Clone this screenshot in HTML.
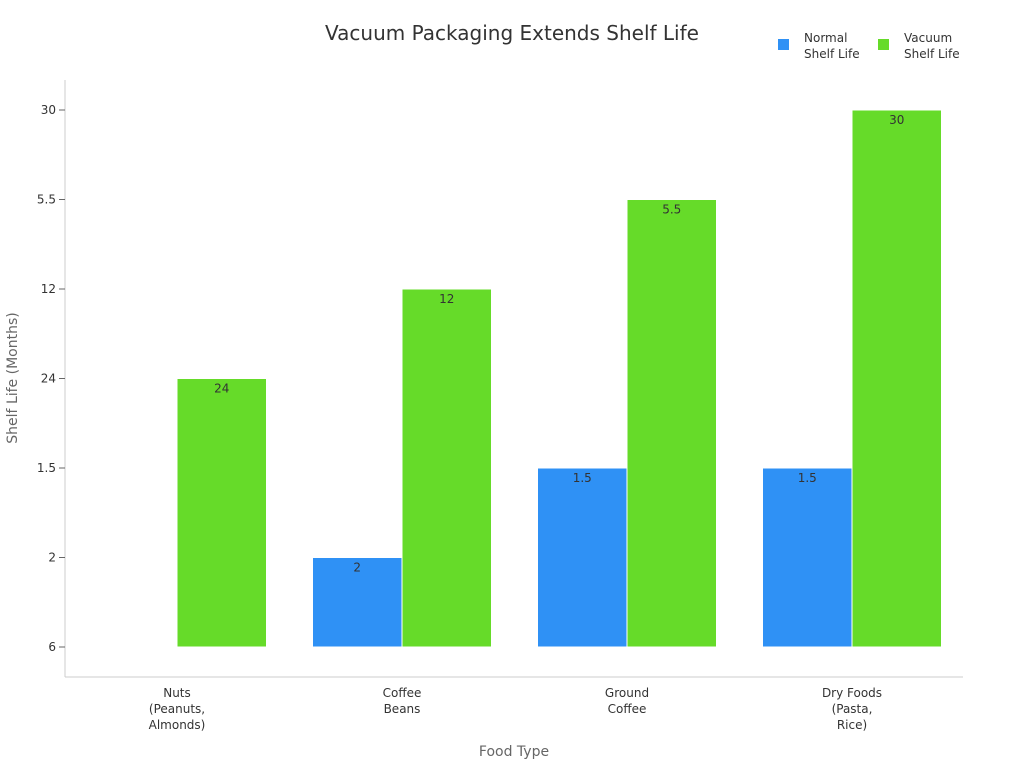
<!DOCTYPE html>
<html><head><meta charset="utf-8"><style>
body{margin:0;background:#fff;font-family:"DejaVu Sans","Liberation Sans",sans-serif;}
svg{display:block}
</style></head><body>
<svg id="chart" width="1024" height="768">
<text x="512" y="40" text-anchor="middle" font-size="20" fill="#333">Vacuum Packaging Extends Shelf Life</text>
<g>
<rect x="778" y="39" width="11" height="11" fill="#2f91f5"/>
<text x="804" y="42" font-size="12" fill="#333"><tspan x="804">Normal</tspan><tspan x="804" dy="16">Shelf Life</tspan></text>
<rect x="878" y="39" width="11" height="11" fill="#66db29"/>
<text x="904" y="42" font-size="12" fill="#333"><tspan x="904">Vacuum</tspan><tspan x="904" dy="16">Shelf Life</tspan></text>
</g>
<line x1="65" y1="80" x2="65" y2="677" stroke="#ccc"/>
<line x1="65" y1="677" x2="963" y2="677" stroke="#ccc"/>
<text transform="translate(17,378) rotate(-90)" text-anchor="middle" font-size="14" fill="#666">Shelf Life (Months)</text>
<text x="514" y="756" text-anchor="middle" font-size="14" fill="#666">Food Type</text>
<g id="g"></g>
</svg>
<script>
const yCategories=["6","2","1.5","24","12","5.5","30"];
const categories=[["Nuts","(Peanuts,","Almonds)"],["Coffee","Beans"],["Ground","Coffee"],["Dry Foods","(Pasta,","Rice)"]];
const normalValues=["6","2","1.5","1.5"];
const vacuumValues=["24","12","5.5","30"];
const NS="http://www.w3.org/2000/svg";
const g=document.getElementById('g');
function y(v){return 647-yCategories.indexOf(v)*89.5;}
function xc(i){return 177+i*225;}
function mk(t,a){const e=document.createElementNS(NS,t);for(const k in a)e.setAttribute(k,a[k]);g.appendChild(e);return e;}
yCategories.forEach(v=>{
 const tk=mk('line',{x1:59,x2:65,y1:y(v),y2:y(v),stroke:'#666'});
 
 
 const t=mk('text',{x:56,y:y(v)+4,'text-anchor':'end','font-size':12,fill:'#333'});
 
 
 t.textContent=v;
});
categories.forEach((c,i)=>{
 const t=mk('text',{x:xc(i),y:697,'text-anchor':'middle','font-size':12,fill:'#333'});
 
 
 c.forEach((l,j)=>{const s=document.createElementNS(NS,'tspan');s.setAttribute('x',xc(i));s.setAttribute('dy',j?16:0);s.textContent=l;t.appendChild(s);});
 [[normalValues[i],-89.5,'#2f91f5','bar-normal'],[vacuumValues[i],0,'#66db29','bar-vacuum']].forEach(([v,off,col,nm])=>{
  const top=y(v),h=647-top;
  if(h<=0)return;
  const r=mk('rect',{x:xc(i)+off,y:top,width:89.5,height:h,fill:col,stroke:'#fff','stroke-width':1});
  
  
  const l=mk('text',{x:xc(i)+off+44.75,y:top+14,'text-anchor':'middle','font-size':12,fill:'#333'});
  
  
  l.textContent=v;
 });
});
</script>
</body></html>
